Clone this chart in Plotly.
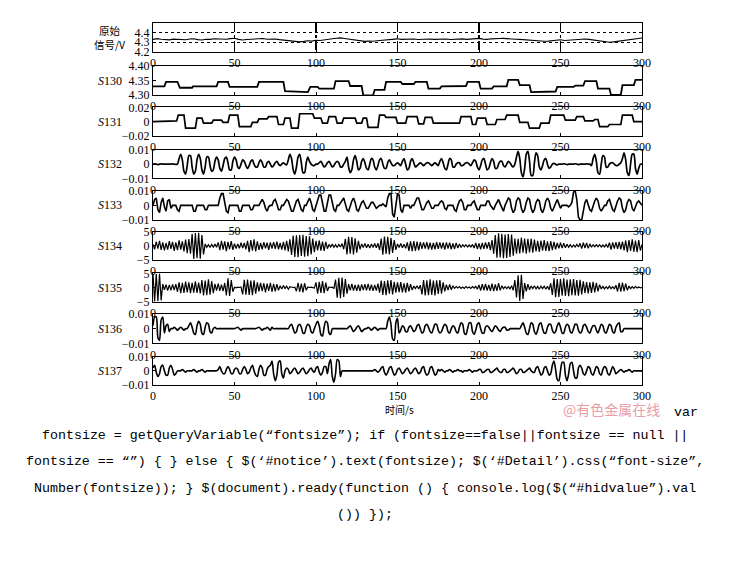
import numpy as np
import plotly.graph_objects as go

# ---------------- data ----------------
time_ticks = [0, 50, 100, 150, 200, 250, 300]

# raw signal, sampled every 2.5 s
raw_signal = [4.330, 4.338, 4.332, 4.326, 4.325, 4.333, 4.330, 4.322, 4.326, 4.334, 4.336, 4.328, 4.324, 4.331,
              4.330, 4.337, 4.334, 4.327, 4.331, 4.338, 4.342, 4.330, 4.324, 4.329, 4.331, 4.336, 4.334, 4.339,
              4.331, 4.336, 4.334, 4.328, 4.324, 4.320, 4.314, 4.308, 4.304, 4.309, 4.316, 4.312, 4.321, 4.318,
              4.326, 4.330, 4.336, 4.342, 4.346, 4.340, 4.334, 4.326, 4.320, 4.314, 4.309, 4.312, 4.310, 4.316,
              4.321, 4.324, 4.326, 4.332, 4.336, 4.330, 4.331, 4.336, 4.334, 4.329, 4.331, 4.336, 4.334, 4.330,
              4.331, 4.336, 4.334, 4.329, 4.331, 4.337, 4.335, 4.330, 4.332, 4.338, 4.341, 4.333, 4.330, 4.336,
              4.334, 4.339, 4.341, 4.336, 4.335, 4.331, 4.330, 4.326, 4.324, 4.321, 4.319, 4.314, 4.310, 4.312,
              4.316, 4.321, 4.326, 4.318, 4.321, 4.327, 4.330, 4.336, 4.334, 4.330, 4.325, 4.320, 4.315, 4.306,
              4.300, 4.304, 4.311, 4.318, 4.325, 4.331, 4.336, 4.340, 4.345]
raw_time = [2.5 * i for i in range(len(raw_signal))]

# S130 step levels (time, value)
s130_t = [0, 7, 8, 15, 16.5, 24, 24.5, 39, 40, 46, 47, 64, 65, 80, 81, 88, 89, 95, 96.5, 101, 102, 111, 112,
          120, 121, 128, 129, 135, 136, 142, 143, 152, 153, 160, 161, 168, 169, 176, 177, 192, 193, 200, 201,
          208, 209, 217, 218, 224, 225, 231, 232, 247, 248, 258, 259, 264, 265, 272, 273, 280, 281, 287, 288,
          295, 296, 300]
s130_v = [4.330, 4.330, 4.345, 4.345, 4.325, 4.325, 4.330, 4.330, 4.345, 4.345, 4.328, 4.328, 4.345, 4.345,
          4.313, 4.312, 4.310, 4.310, 4.328, 4.328, 4.322, 4.322, 4.348, 4.348, 4.331, 4.331, 4.299, 4.299,
          4.318, 4.318, 4.345, 4.345, 4.338, 4.338, 4.345, 4.345, 4.322, 4.322, 4.330, 4.331, 4.345, 4.345,
          4.322, 4.322, 4.330, 4.330, 4.352, 4.352, 4.334, 4.334, 4.310, 4.312, 4.328, 4.328, 4.332, 4.332,
          4.348, 4.348, 4.322, 4.322, 4.300, 4.300, 4.334, 4.334, 4.352, 4.352]

# S131 step levels (time, value)
s131_t = [0, 12, 13, 14.5, 15.5, 19, 20, 26, 27, 30, 31, 36, 37, 42, 43, 46, 47, 52, 53, 60, 61, 64, 65, 70,
          71, 76, 77, 80, 81, 84, 85, 89, 90, 98, 99, 103, 104, 107, 108, 112, 113, 116, 117, 124, 125, 128,
          129, 131, 132, 138, 139, 142, 143, 149, 150, 155, 156, 162, 163, 166, 167, 171, 172, 188, 189, 195,
          196, 198, 199, 204, 205, 210, 211, 216, 217, 224, 225, 230, 231, 237, 238, 243, 244, 252, 253, 259,
          260, 264, 265, 270, 271, 273, 274, 279, 280, 287, 288, 294, 295, 300]
s131_v = [0, 0, 0.001, 0.001, 0.009, 0.009, -0.009, -0.009, 0.005, 0.005, -0.002, -0.002, 0.002, 0.002,
          -0.001, -0.001, 0.009, 0.009, -0.007, -0.007, -0.001, -0.001, 0.004, 0.004, 0.007, 0.007, -0.004,
          -0.004, 0.005, 0.005, -0.009, -0.009, 0.011, 0.011, 0.005, 0.005, -0.002, -0.002, 0.007, 0.007,
          -0.002, -0.002, 0.005, 0.005, -0.002, -0.002, 0.005, 0.005, -0.008, -0.008, 0.009, 0.009, 0.006,
          0.006, -0.002, -0.002, 0.007, 0.007, -0.003, -0.003, 0.006, 0.006, -0.002, -0.002, 0.007, 0.007,
          -0.004, -0.004, 0.005, 0.005, -0.004, -0.004, 0.003, 0.003, 0.009, 0.009, -0.001, -0.001, -0.009,
          -0.009, -0.002, -0.002, 0.009, 0.009, 0.002, 0.002, 0.007, 0.007, 0.001, 0.001, 0.003, 0.003,
          -0.007, -0.007, -0.004, -0.004, 0.009, 0.009, 0, 0]

# S132, S133, S136, S137 in units of 0.001, sampled every 1 s
s132_milli = [0, 0.3, 0, -0.3, 0, 0.2, 0, 0, 0, 0, 0, 0, 0.2, 0, -0.2, 0,
              4, 7, 3, -5, -7, -1, 6, 6, -2, -7, -5, 3, 7, 4, -4, -7, -2,
              5, 5, -1, -5, -4, 2, 5, 3, -3, -5, -1, 4, 5, 1, -4, -4, 2, 5, 3,
              -2, -3, 0, 3, 2, -1, -3, -1, 2, 3, 0, -2, -2, 1, 3, 1, -2, -2,
              1, 2, 0, -2, -1, 1, 2, 0,
              -1, 0, 1, 0, -0.5,
              3, 7, 4, -4, -7, -2, 5, 7, 1, -6, -6, 1, 5,
              2, 0, -1, -1, 0, 0, 1, 2, 0, -2, -1, 1,
              2, 0, -2, -1, 1, 2, 1, -2, -2, 0, 2,
              5, -2, -6, -4, 3, 6, 2, -4,
              -3, 2, 4, 1, -3, -4, 0, 4, 3, -2, -4, -1, 3, 4, 0, -3, -3, 1, 3, 1,
              -1, -1, 0, 1, 0, -1,
              2, 4, 0, -4, -3, 2, 4, 1, -2,
              -1, 0, 1, 0, -1, 0, 1, 1, 0, -1, 0, 1, 0, -1,
              2, 4, 1, -3, -4, 0, 4, 3, -2, -2,
              0, 1, 1, -1, -1, 0, 1, 1, 0, -1,
              1, 3, 2, -2, -4, -1, 3, 4, 0, -4, -3, 1, 4, 2, -3, -3, 0,
              2, 2, -1, -2, 0, 2, 1, -1, -2, 0,
              5, 9, 4, -6, -9, -3, 7, 9, 2, -8, -8, 1, 8, 6,
              -2, -4, -1, 3, 4, 0, -3, -2,
              0, 0.5, 0, -0.5, 0, 0, 0, 0.3, 0, -0.3, 0, 0, 0, 0, 0.3, 0, -0.3, 0, 0, 0, 0, 0.2, 0, 0, -1,
              4, 7, 2, -6, -7, 0, 6, 5,
              -2, -2, 0, 1, 1, 0, -1, -1, 0, 1,
              4, 8, 3, -6, -8, 0, 7, 7, -3, -7,
              -3, 0, 0]

s133_milli = [0, 4, 5, -3, -5, 2, 5, -1, -4, 3, 4, -2, 0,
              0, 0, -3, -4, 0, 0, 0, 0, 0, 0, 0, 0, -4, -4, 0, 0, 0, 0, 0, -3, -3, 0, 0, 0, 0, 0, 0, 0,
              5, 8, 8, 2, -4, -5,
              0, 0, 0, 0, 0, 0, -4, -4, 0, 0, 0, 0, 0, -3, -3, 0, 0, 0, 0,
              2, 4, 2, -2, -4, -1, 0, 0, 3, 4, 1, -3, -3, 0, 0, 2, 4, 3, -1, -4, -4, 0, 3, 4, 1, -3, -4, 0,
              0, 3, 5, 2, -3, -4, 0,
              4, 7, 7, 0, -4, -4, 3, 7, 7, 1, -3, -4, 0, 0, 2,
              4, 5, 1, -3, -4, 0, 3, 5, 2, -3, -4, -1, 2, 3, 0, -2, -2, 0, 2, 2, 0, -2, -1, 0,
              0, 1, 0, -1,
              5, 8, 8, -6, -8, 2, 8, 7, -3, -5,
              0, 0, 0, 0, -2, 0, 0,
              3, 5, 5, 0, -3, -3, 0, 2, 3, 0, -2, -2, 0, 0, 0,
              2, 3, 2, -2, -3, 0, 0, 0, 0, -3, -4, 0, 3, 4, 2, -3, -3, 0, 0, 0, 2, 3, 0, -3, -3, 0, 0, 0, 0,
              3, 3, 0, -2, -3, 0, 2, 4, 1, -2,
              -4, 0, 3, 5, 4, -2, -5, -3, 3, 5, 4, -2, -5, -3, 2, 5, 4, -2, -5, -3, 2, 4, 3, -3, -5, -2, 3,
              5, 3, -2, -4, -1, 2, 4, 1, -2,
              0, 0, 0, 0, -1, 0, 2,
              9, 10, 4, -8, -10, -10, -4, 2, 4,
              0, -3, -4, 0, 3, 5, 3, -2, -4, -2, 0, 0, 3, 4, 1, -3, -4, 0, 3, 5, 4, -2, -5, -3, 2, 4, 3, -2,
              -4, -1, 2, 3, 1, 0]

# S134, S135 in volts, sampled every 1 s
s134 = [0.5, -1.2, 1.5, -1.0, 1.8, -1.4, 1.2, -1.6, 1.0, -1.3, 1.7, -1.1, 1.4, -1.8, 1.2, -1.5, 1.9, -1.3, 1.6, -2.0,
        2.2, -2.6, 2.4, -2.8,
        4.3, -4.6, 4.5, -4.4, 4.6, -4.5, 3.8, -3.0,
        0.6, -0.5, 0.4, -0.6, 0.5, -0.4, 0.6, -0.5,
        1.2, -1.5, 1.8, -1.3, 1.6, -1.9, 1.4, -1.2, 1.7, -1.4,
        0.8, -1.0, 0.7, -0.9, 1.1, -0.8, 1.0, -1.2,
        1.8, -2.2, 2.0, -1.7, 2.3, -2.0, 1.6, -1.4,
        1.0, -1.2, 1.3, -0.9, 1.1, -1.4, 1.2, -1.0, 1.3, -1.1, 1.5, -1.2, 1.0, -1.3, 1.4, -1.6, 1.8, -2.0, 2.3,
        -3.2, 3.6, -3.9, 3.7, -4.0, 3.8, -3.6, 3.9, -3.8, 3.5, -3.7, 3.4, -3.0, 2.6, -2.2,
        1.8, -1.6, 1.9, -1.7, 1.5, -1.8, 1.4, -1.0,
        0.5, -0.4, 0.6, -0.5, 0.4, -0.6, 0.5, -0.4, 0.8, -1.2,
        2.5, -3.0, 3.2, -2.8, 3.1, -3.0, 2.7, -2.4, 1.8, -1.2,
        0.7, -0.6, 0.8, -0.7, 0.6, -0.8, 0.7, -0.6, 0.8, -0.7, 0.9, -1.4,
        2.6, -3.1, 3.3, -2.9, 3.2, -3.0, 2.8, -2.5, 2.0, -1.4,
        0.7, -0.6, 0.8, -0.7, 0.6, -0.9, 1.2,
        -1.8, 1.6, -1.9, 1.7, -1.8, 1.5, -1.6, 1.3,
        -1.1, 1.2, -1.0, 1.3, -1.2, 1.1, -1.3, 1.0, -1.2, 1.3, -1.1, 1.2, -1.0, 1.1, -1.3, 1.2, -1.0, 1.1, -1.2,
        0.9, -1.1, 1.0, -0.8, 0.7, -0.6,
        0.4, -0.3, 0.4, -0.4, 0.3, -0.4, 0.5,
        -0.8, 1.0, -1.1, 0.9, -1.2, 1.0, -1.1, 1.2, -1.0, 1.3, -1.5, 2.0, -2.8,
        3.8, -4.2, 4.4, -4.1, 4.3, -4.4, 4.0, -4.3, 4.2, -3.9, 4.0, -3.5,
        2.6, -2.8, 2.5, -2.7, 2.9, -2.4, 2.6, -2.8, 2.5, -2.3, 2.6, -2.4, 2.2,
        -2.0, 1.8, -2.1, 1.9, -1.7, 2.0, -1.8, 1.6, -1.9, 1.7, -1.5, 1.4, -1.2,
        1.0, -0.9, 1.1, -0.8, 0.9, -0.7, 0.6,
        -0.5, 0.4, -0.5, 0.3, -0.4, 0.5, -0.4,
        0.9, -1.0, 1.1, -0.8, 1.0, -0.9, 0.7, -0.5,
        0.4, -0.3, 0.4, -0.3, 0.4, -0.4, 0.3, -0.4, 0.5, -0.6,
        1.1, -1.3, 1.2, -1.0, 1.3, -1.1, 1.4, -1.2, 1.5, -1.6,
        1.9, -2.2, 2.0, -1.8, 2.3, -2.1, 1.9, -2.2, 2.0, -1.7, 0.5]

s135 = [4.8, -4.9, 4.7, -4.8, 4.9, -4.6,
        1.2, -0.8, 1.0, -1.1, 0.9, -1.0, 1.1, -0.9, 1.2,
        -1.5, 1.8, -2.0, 1.6, -1.9, 2.1, -1.7, 1.8, -2.0, 1.6, -1.8, 2.2, -1.9, 1.7, -2.1,
        2.6, -2.8, 2.4, -2.7, 2.9, -2.5, 2.3, -2.0,
        1.3, -1.1, 1.4, -1.2, 1.0, -1.3, 1.6,
        -2.8, 3.2, -3.0, 2.6, -1.5,
        0.1, -0.1, 0.1, 0.0, 0.2,
        -2.4, 2.7, -2.5, 2.8, -2.6, 2.4, -2.7, 2.5, -2.2, 1.8,
        -1.4, 1.6, -1.3, 1.5, -1.7, 1.4, -1.2, 1.6, -1.5, 1.3, -1.4, 1.2, -1.0,
        0.6, -0.5, 0.7, -0.4, 0.5, -0.6, 0.3,
        0.1, 0.0, 0.1,
        -1.3, 1.6, -1.5, 1.4, -1.7, 1.5, -1.0,
        0.2, 0.0, 0.1, 0.0, -0.2,
        1.8, -2.2, 2.0, -1.9, 2.3, -2.0, 1.7, -1.2,
        0.2, 0.0, 0.1, -0.4,
        2.8, -3.6, 3.4, -3.8, 3.5, -3.3, 3.0, -2.2,
        1.2, -1.0, 1.3, -1.1, 0.9, -1.2, 1.0, -1.3, 1.1, -0.9, 1.2, -1.0, 1.3, -1.1, 1.0, -1.2, 0.9, -1.1, 1.4, -1.8,
        2.4, -2.6, 2.3, -2.7, 2.5, -2.2, 2.6, -2.4, 2.0, -1.8,
        1.8, -1.6, 1.9, -1.7, 1.5, -1.8, 1.6, -1.4, 1.2, -0.9,
        0.5, -0.4, 0.6, -0.5, 0.8,
        -2.4, 2.6, -2.8, 2.5, -2.7, 2.9, -2.6, 2.4, -2.8, 2.5, -2.3, 2.6, -2.2, 1.8, -1.4,
        1.0, -0.9, 1.1, -0.8, 0.6,
        -0.3, 0.3, -0.2, 0.3, -0.3, 0.2, -0.3, 0.3, -0.2, 0.2, -0.3, 0.3, -0.2, 0.4, -0.6,
        0.9, -1.1, 1.2, -1.0, 1.3, -1.1, 0.9, -1.2, 1.4, -1.3, 1.1, -1.2, 1.5, -1.0, 0.6,
        -0.4, 0.3, -0.4, 0.3, -0.5, 0.6, -1.0,
        2.6, -3.5, 4.3, -4.8, 4.5, -4.0,
        1.6, -1.4, 1.2, -0.8,
        0.5, -0.4, 0.6, -0.5, 0.4, -0.6, 0.5, -0.4, 0.5, -0.6, 0.4, -0.8, 1.5,
        -2.6, 3.2, -3.4, 3.0, -3.3, 3.1, -2.9, 3.2, -3.0, 2.8, -3.1, 2.9, -2.7, 3.0, -2.8, 2.6, -2.9, 2.7, -2.4, 2.2,
        -2.0, 1.9, -2.1, 1.8, -1.9, 2.0, -1.7, 1.6, -1.4, 1.0,
        -0.5, 0.4, -0.5, 0.3, -0.4, 0.5, -0.4, 0.3, -0.5, 0.8,
        -1.4, 1.6, -1.5, 1.7, -1.3, 1.4, -1.0,
        0.5, -0.4, 0.3, -0.3, 0.4, -0.2, 0.2, -0.1, 0.0]

s136_milli = [2, 8, 8, -6, -8, 6, 8,
              -3, 2, 3, -2, 0,
              0, 1, 0, -1, 0, 1, 0, -1, 0, 0,
              2, 4, 1, -3, -4, 2, 5, 3, -3, -4, 1, 4, 3, -2, -3, 0, 1,
              0, 0, 0, 0, 0, 0, 0, 0, 0, 0, 0, 0,
              0.5, 1, 0, -1, 0, 0,
              0, 0, 0, 0, 0, 0, 0,
              0.5, 1, 0, -1, 0, 0,
              1, 0, -1, 1, 0, 0,
              0, 0, 0, 0, 0, 0, 0, 0,
              2, 3, 0, -3, -2, 2, 3, 1, -3, -3, 1, 3, 2, -2, -3, 0,
              3, 5, 2, -4, -5, 1, 5, 4, -3, -4, 0,
              0, 0, 0, 0, 0, 0, 0, 0, 0,
              1, 2, 0, -2, -1, 1, 2, 0, -2, -1, 0,
              0, 1, 0, -1, 0, 1, 0, -1, 0,
              0, 0, 0, 0,
              5, 8, 3, -7, -8, 4, 7, -3,
              -1, 2, 1, -2, -2, 1, 2, 0, -2,
              -1, 2, 3, 0, -3, -2, 2, 3, 1, -2, -3, 0, 3, 3, -1, -3, -2, 1, 3, 2, -2, -3, 0, 2, 1,
              -2, -3, 1, 4, 3, -3, -4, 0, 4, 4, -2, -4, -1, 3, 4, 0, -3, -3, 1, 2,
              1, -1, -2, 0, 2, 1, -1, -2, 0, 1, 1, -1, -1, 0, 0,
              0, 0, 0, 0, 0,
              2, 4, 1, -3, -4, 0, 4, 3, -2, -4, -1, 3, 4, 0, -3,
              -3, 1, 3, 3, -1, -3, -2, 2, 4, 1, -3, -3, 1, 3, 2, -2, -3, 0, 3, 3, -1, -3, -2, 2, 3, 1, -2, -3, 0, 2,
              2, -1, -3, 0, 3, 2, -2, -3, 0, 3, 2, -2, -3, 1, 3, 4, -2, -2, 0, 0,
              0, 0, 0, 0, 0, 0, 0, 0, 0, 0]

s137_milli = [2, 4, -1, -4, -2, 3, 4, 0, -3, -3, 2, 4, 1, -3, -2, 0,
              0, 0, 1, 0, -1, 0, 0, 0, 0, 1, 0, -1, 0, 0, 1, 0, -1, 0, 0, 0, 0, 0, 0, 0,
              1, 3, 0, -2, -2, 1, 3, 1, -2, -2, 1, 2, 1, -2, -2, 1, 3, 1, -2, -1,
              2, 4, 0, -3, -4, 1, 4, 2, -3, -3, 1, 3,
              4, 7, -2, -7, -3, 6, 7, -2, -5,
              0, 2, 1, -2, -1, 1, 2, 0, -2, -1, 1, 2, 0, -2, -1, 1, 2, 0, -1,
              2, 3, -1, -3, -1, 3, 3, -2,
              5, 8, -4, -8, -2, 8, 7, -4,
              0, 0, 0, 0, 0, 0, 0, 0, 0, 0, 0, 0, 0, 0, 0, 0, 0, 0, 0,
              0, 1, 0, -1, 0,
              2, 3, -1, -3, -1, 2, 3, 0, -3, -2,
              1, 2, 0, -2, -1, 1, 2, 0, -2, -1, 1, 2, 0, -2, -1,
              2, 3, -1, -3, -2, 2, 3, 0, -3, -2, 1,
              0, 1, 0, -1, 0, 0, 1, 0, -1, 0, 0, 1, 0, 0, -1, 0, 0, 0, 1, 0, -1, 0, 0, 0,
              1, 1, -1, -1, 0, 1, 1, -1, -1, 0, 1, 2, 0, -1, -1, 1, 1, -1, -1, 0, 1, 2, 0, -2, -1, 1, 1, -1, -1, 0,
              1, 2, 0, -1, -1,
              2, 3, 0, -3, -2, 2, 3, 0, -3, -2,
              4, 7, 1, -6, -7, 0, 6, 6, -3, -7, -2, 5, 6, 0, -5, -5, 2, 4,
              2, -2, -3, 0, 3, 2, -2, -3, 0, 3, 2, -2, -3, 1, 3, 2, -2, -3, 0, 3, 1, -2, -1,
              0, 1, 0, -1, 0, 0, 1, 0, -1, 0, 0, 0, 0, 0, 0]

panel_labels = ["原始<br>信号/V", "<i>S</i>130", "<i>S</i>131", "<i>S</i>132", "<i>S</i>133",
                "<i>S</i>134", "<i>S</i>135", "<i>S</i>136", "<i>S</i>137"]

code_lines = [
    "fontsize = getQueryVariable(“fontsize”); if (fontsize==false||fontsize == null ||",
    "fontsize == “”) { } else { $(‘#notice’).text(fontsize); $(‘#Detail’).css(“font-size”,",
    "Number(fontsize)); } $(document).ready(function () { console.log($(“#hidvalue”).val",
    "()) });",
]


def sec(values):
    return [float(i) for i in range(len(values))]


def milli_to_unit(values):
    return [v / 1000.0 for v in values]


series = [
    (raw_time, raw_signal, "linear", 1.1),
    (s130_t, s130_v, "linear", 1.8),
    (s131_t, s131_v, "linear", 1.7),
    (sec(s132_milli), milli_to_unit(s132_milli), "spline", 1.7),
    (sec(s133_milli), milli_to_unit(s133_milli), "linear", 1.6),
    (sec(s134), s134, "linear", 1.2),
    (sec(s135), s135, "linear", 1.2),
    (sec(s136_milli), milli_to_unit(s136_milli), "spline", 1.6),
    (sec(s137_milli), milli_to_unit(s137_milli), "spline", 1.6),
]

y_ranges = [[4.2, 4.5], [4.30, 4.40], [-0.02, 0.02], [-0.01, 0.01], [-0.01, 0.01],
            [-5, 5], [-5, 5], [-0.01, 0.01], [-0.01, 0.01]]
y_tickvals = [[4.2, 4.3, 4.4], [4.30, 4.35, 4.40], [-0.02, 0, 0.02], [-0.01, 0, 0.01], [-0.01, 0, 0.01],
              [-5, 0, 5], [-5, 0, 5], [-0.01, 0, 0.01], [-0.01, 0, 0.01]]
y_ticktext = [["4.2", "4.3", "4.4"], ["4.30", "4.35", "4.40"], ["−0.02", "0", "0.02"],
              ["−0.01", "0", "0.01"], ["−0.01", "0", "0.01"], ["−5", "0", "5"], ["−5", "0", "5"],
              ["−0.01", "0", "0.01"], ["−0.01", "0", "0.01"]]

# ---------------- layout ----------------
W, H = 730, 563
x0_px, x1_px = 153, 642
tops = [23.3, 66, 107.3, 150, 190.7, 231.7, 273.3, 314, 356.7]
heights = [28.4, 29, 28.7, 28.3, 29.3, 28.3, 28.4, 29.3, 28.3]

fig = go.Figure()
tick_font = dict(family="Liberation Serif, Times New Roman, serif", size=12, color="black")

annotations = []
for i, (tx, ty, shape, lw) in enumerate(series):
    n = "" if i == 0 else str(i + 1)
    fig.add_trace(go.Scatter(x=tx, y=ty, mode="lines", xaxis="x" + n, yaxis="y" + n,
                             line=dict(color="black", width=lw, shape=shape, smoothing=0.8),
                             showlegend=False, hoverinfo="skip"))
    top, hgt = tops[i], heights[i]
    ydom = [1 - (top + hgt) / H, 1 - top / H]
    xa = dict(domain=[x0_px / W, x1_px / W], range=[0, 300], anchor="y" + n, automargin=False,
              tickvals=time_ticks, ticktext=[str(v) for v in time_ticks],
              ticks="inside", ticklen=3, tickcolor="black",
              showline=True, mirror=True, linecolor="black", linewidth=1,
              showgrid=False, zeroline=False, tickfont=tick_font)
    ya = dict(domain=ydom, range=y_ranges[i], anchor="x" + n, automargin=False,
              tickvals=y_tickvals[i], ticktext=y_ticktext[i], ticks="inside", ticklen=3,
              tickcolor="black", showline=True, mirror=True, linecolor="black", linewidth=1,
              showgrid=False, zeroline=False, tickfont=tick_font)
    if i == 0:
        xa.update(showgrid=True, gridcolor="black", gridwidth=1.2, griddash="dashdot")
        ya.update(showgrid=True, gridcolor="black", gridwidth=1.3, griddash="dot")
    fig.layout["xaxis" + n] = xa
    fig.layout["yaxis" + n] = ya

    is_cjk = i == 0
    annotations.append(dict(
        text=panel_labels[i], xref="paper", yref="paper", x=110 / W, y=1 - (top + hgt / 2) / H,
        xanchor="center", yanchor="middle", showarrow=False,
        font=dict(family=("Noto Sans CJK SC" if is_cjk else "Liberation Serif, serif"),
                  size=(10.5 if is_cjk else 12), color="black")))

annotations.append(dict(text="时间/s", xref="paper", yref="paper", x=399 / W, y=1 - 409 / H,
                        xanchor="center", yanchor="middle", showarrow=False,
                        font=dict(family="Noto Sans CJK SC", size=10, color="black")))
annotations.append(dict(text="@有色金属在线", xref="paper", yref="paper", x=611 / W, y=1 - 409 / H,
                        xanchor="center", yanchor="middle", showarrow=False,
                        font=dict(family="Noto Sans CJK SC", size=14, color="rgb(232,158,168)")))
mono = dict(family="Liberation Mono, DejaVu Sans Mono, monospace", size=13.3, color="black")
annotations.append(dict(text="var", xref="paper", yref="paper", x=672 / W, y=1 - 412 / H,
                        xanchor="left", yanchor="middle", showarrow=False, font=mono))
line_y = [435, 461.5, 488, 514]
for txt, yy in zip(code_lines, line_y):
    annotations.append(dict(text=txt, xref="paper", yref="paper", x=365 / W, y=1 - yy / H,
                            xanchor="center", yanchor="middle", showarrow=False, font=mono))

fig.update_layout(template="none", width=W, height=H,
                  margin=dict(l=0, r=0, t=0, b=0, pad=0, autoexpand=False),
                  font=dict(family="Liberation Serif, serif", size=12, color="black"),
                  paper_bgcolor="white", plot_bgcolor="white",
                  annotations=annotations, showlegend=False)

fig.write_html("out.html", config={"displayModeBar": False, "staticPlot": True},
               post_script="document.body.style.margin='0';document.body.style.overflow='hidden';")
